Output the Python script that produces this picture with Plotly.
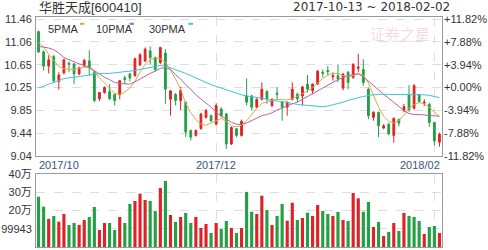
import plotly.graph_objects as go
import pandas as pd

# ---------------- data ----------------
dates = [d.strftime("%Y-%m-%d") for d in pd.bdate_range("2017-10-13", "2018-02-02")
         if d.strftime("%Y-%m-%d") != "2018-01-01"]

open_ = [11.24, 10.88, 10.63, 10.80, 10.36, 10.51, 10.68, 10.67, 10.49, 10.63,
         10.72, 10.53, 10.05, 10.16, 10.18, 10.13, 10.12, 10.42, 10.49, 10.46,
         10.65, 10.72, 10.90, 10.78, 10.69, 10.86, 10.04, 10.13, 10.02, 9.99,
         9.49, 9.40, 9.52, 9.72, 9.75, 9.60, 9.87, 9.78, 9.25, 9.52,
         9.40, 10.10, 10.10, 9.90, 10.04, 10.18, 9.93, 10.15, 9.99, 9.90,
         10.04, 10.13, 10.10, 10.31, 10.19, 10.31, 10.52, 10.55, 10.44, 10.46,
         10.24, 10.52, 10.43, 10.59, 10.57, 10.22, 9.72, 9.81, 9.53, 9.60,
         9.40, 9.68, 9.84, 10.12, 9.88, 10.12, 9.97, 9.95, 9.63, 9.28]
high = [11.26, 10.91, 10.82, 10.83, 10.52, 10.76, 10.71, 10.68, 10.62, 10.76,
        10.91, 10.55, 10.17, 10.27, 10.31, 10.14, 10.38, 10.46, 10.51, 10.78,
        10.86, 10.96, 10.98, 10.80, 10.97, 10.93, 10.20, 10.15, 10.26, 10.00,
        9.50, 9.50, 9.80, 9.87, 9.77, 9.97, 9.90, 9.80, 9.56, 9.53,
        9.68, 10.41, 10.12, 10.06, 10.34, 10.20, 10.06, 10.25, 10.00, 10.00,
        10.34, 10.16, 10.28, 10.47, 10.32, 10.56, 10.57, 10.63, 10.52, 10.66,
        10.50, 10.54, 10.68, 10.85, 10.75, 10.25, 9.83, 9.82, 9.60, 9.62,
        9.72, 9.70, 9.96, 10.29, 10.31, 10.14, 10.04, 9.98, 9.64, 9.45]
low = [10.86, 10.55, 10.50, 10.33, 10.21, 10.48, 10.52, 10.31, 10.47, 10.62,
       10.46, 9.99, 10.01, 10.14, 10.03, 9.93, 10.04, 10.31, 10.36, 10.44,
       10.63, 10.70, 10.66, 10.53, 10.66, 9.96, 9.75, 9.93, 9.85, 9.37,
       9.31, 9.38, 9.50, 9.70, 9.64, 9.58, 9.72, 9.16, 9.23, 9.37,
       9.38, 9.93, 9.84, 9.88, 10.02, 9.96, 9.90, 10.04, 9.66, 9.75,
       10.02, 9.99, 9.93, 10.16, 10.13, 10.30, 10.43, 10.46, 10.37, 10.34,
       10.20, 10.22, 10.40, 10.52, 10.28, 9.69, 9.66, 9.37, 9.51, 9.40,
       9.27, 9.56, 9.81, 9.82, 9.86, 9.98, 9.92, 9.55, 9.22, 9.20]
close = [10.88, 10.63, 10.74, 10.37, 10.47, 10.74, 10.66, 10.49, 10.60, 10.73,
         10.60, 10.02, 10.16, 10.25, 10.05, 10.02, 10.37, 10.39, 10.42, 10.76,
         10.83, 10.93, 10.78, 10.57, 10.96, 10.22, 10.19, 10.02, 10.20, 9.46,
         9.37, 9.49, 9.78, 9.84, 9.66, 9.93, 9.75, 9.25, 9.54, 9.40,
         9.65, 9.99, 9.90, 10.04, 10.22, 10.05, 10.04, 10.13, 9.90, 9.99,
         10.22, 10.05, 10.26, 10.22, 10.31, 10.54, 10.50, 10.53, 10.46, 10.40,
         10.49, 10.34, 10.66, 10.61, 10.34, 9.75, 9.81, 9.57, 9.57, 9.43,
         9.70, 9.62, 9.91, 9.85, 10.28, 10.00, 9.99, 9.63, 9.30, 9.42]

ma5 = [11.05, 10.97, 10.84, 10.74, 10.62, 10.58, 10.57, 10.57, 10.59, 10.61,
       10.60, 10.53, 10.42, 10.33, 10.25, 10.15, 10.12, 10.17, 10.24, 10.36,
       10.52, 10.66, 10.74, 10.78, 10.76, 10.70, 10.55, 10.40, 10.22, 9.97,
       9.80, 9.68, 9.60, 9.58, 9.62, 9.66, 9.70, 9.65, 9.57, 9.55,
       9.58, 9.66, 9.78, 9.88, 9.97, 10.00, 10.02, 10.04, 10.04, 10.03,
       10.05, 10.09, 10.14, 10.19, 10.25, 10.33, 10.41, 10.47, 10.50, 10.50,
       10.46, 10.44, 10.46, 10.50, 10.47, 10.33, 10.12, 9.90, 9.74, 9.65,
       9.62, 9.66, 9.76, 9.88, 9.95, 9.98, 9.96, 9.90, 9.81, 9.74]
ma10 = [10.98, 10.97, 10.95, 10.92, 10.86, 10.78, 10.74, 10.70, 10.67, 10.64,
        10.61, 10.55, 10.49, 10.43, 10.39, 10.34, 10.32, 10.31, 10.31, 10.35,
        10.40, 10.46, 10.50, 10.54, 10.59, 10.60, 10.57, 10.48, 10.40, 10.30,
        10.22, 10.12, 10.05, 9.97, 9.90, 9.81, 9.74, 9.69, 9.63, 9.60,
        9.59, 9.62, 9.66, 9.71, 9.75, 9.77, 9.80, 9.85, 9.89, 9.93,
        9.96, 9.99, 10.04, 10.09, 10.13, 10.18, 10.23, 10.28, 10.33, 10.39,
        10.42, 10.46, 10.48, 10.49, 10.44, 10.36, 10.29, 10.21, 10.13, 10.06,
        9.99, 9.91, 9.84, 9.79, 9.77, 9.77, 9.76, 9.76, 9.75, 9.74]
ma30 = [10.24, 10.28, 10.31, 10.34, 10.37, 10.41, 10.42, 10.43, 10.44, 10.45,
        10.47, 10.49, 10.50, 10.50, 10.50, 10.51, 10.52, 10.52, 10.53, 10.55,
        10.57, 10.59, 10.61, 10.63, 10.64, 10.63, 10.60, 10.57, 10.53, 10.50,
        10.46, 10.42, 10.38, 10.33, 10.30, 10.27, 10.24, 10.21, 10.18, 10.14,
        10.12, 10.10, 10.09, 10.07, 10.06, 10.04, 10.02, 10.01, 10.00, 9.98,
        9.97, 9.95, 9.94, 9.93, 9.92, 9.91, 9.91, 9.92, 9.94, 9.97,
        9.99, 10.02, 10.05, 10.07, 10.09, 10.11, 10.12, 10.13, 10.13, 10.13,
        10.13, 10.13, 10.13, 10.13, 10.13, 10.12, 10.12, 10.11, 10.09, 10.07]

volume = [275600, 220800, 153400, 169900, 138700, 180800, 120500, 131500, 120500, 147900,
          164400, 219200, 93200, 131500, 131500, 93200, 164400, 131500, 235600, 252100,
          292300, 257500, 252100, 197300, 323300, 361600, 175300, 137000, 164400, 186300,
          131500, 164400, 104100, 126000, 76700, 131500, 98600, 142500, 104100, 76700,
          104100, 302000, 193400, 180800, 281100, 202700, 120500, 169900, 235600, 144100,
          242700, 147900, 158900, 188000, 169900, 230100, 197300, 180800, 169900, 191800,
          147900, 142500, 295900, 266700, 193400, 246600, 109600, 137000, 60300, 82200,
          131500, 87700, 186300, 169900, 164400, 142500, 71200, 109600, 115100, 76700]
volume_dir = "ggrgrrggrr" "ggrrggrggr" "rrggrgrgrg" "grrrgrggrg" "rggrrgrggr" \
             "rgrgrrggrg" "rgrrggrgrg" "rgrgggrggr"

price_ticks = [9.04, 9.44, 9.85, 10.25, 10.65, 11.06, 11.46]
pct_labels = ["-11.82%", "-7.88%", "-3.94%", "+0.00%", "+3.94%", "+7.88%", "+11.82%"]
vol_ticks = [99943, 200000, 300000, 400000]
vol_labels = ["99943", "20万", "30万", "40万"]
month_labels = ["2017/10", "2017/12", "2018/02"]
month_grid = ["2017-12-01", "2018-02-01"]
ma_names = ["5PMA", "10PMA", "30PMA"]
title_text = "华胜天成[600410]"
range_text = "2017-10-13 ~ 2018-02-02"

# ---------------- style ----------------
RED = "#dd2327"
GREEN = "#23a046"
MA_COLORS = ["#d6ae48", "#b9649f", "#3dc3dc"]
BORDER = "#9a9a9a"
GRID = "#dedede"
TXT = "#333333"
BLUE_TXT = "#3a5580"
FONT = "Liberation Sans, Arial, Noto Sans CJK SC"

W, H = 488, 250
L, R, T, B = 36, 46, 17, 3
PW, PH = W - L - R, H - T - B


def px(x):
    return (x - L) / PW


def py(y):
    return (H - B - y) / PH


fig = go.Figure()
fig.add_trace(go.Candlestick(
    x=dates, open=open_, high=high, low=low, close=close,
    increasing=dict(line=dict(color=RED, width=1), fillcolor=RED),
    decreasing=dict(line=dict(color=GREEN, width=1), fillcolor=GREEN),
    whiskerwidth=0, xaxis="x", yaxis="y", showlegend=False, hoverinfo="skip"))
for ma, col in zip([ma5, ma10, ma30], MA_COLORS):
    fig.add_trace(go.Scatter(x=dates, y=ma, mode="lines", line=dict(color=col, width=1),
                             xaxis="x", yaxis="y", showlegend=False, hoverinfo="skip"))
# carrier for the right-hand percent axis
fig.add_trace(go.Scatter(x=dates, y=close, mode="lines", line=dict(width=0), opacity=0,
                         xaxis="x", yaxis="y2", showlegend=False, hoverinfo="skip"))
fig.add_trace(go.Bar(x=dates, y=volume,
                     marker=dict(color=[RED if c == "r" else GREEN for c in volume_dir], line=dict(width=0)),
                     width=0.62, xaxis="x2", yaxis="y3", showlegend=False, hoverinfo="skip"))

xcommon = dict(type="category", range=[-0.5, len(dates) - 0.5], showticklabels=False, ticks="",
               tickvals=month_grid, showgrid=True, gridcolor=GRID, griddash="dash", gridwidth=1,
               showline=True, mirror=True, linecolor=BORDER, linewidth=1, zeroline=False,
               fixedrange=True)
yrange = [9.035, 11.50]
tickfont = dict(family=FONT, size=11, color=TXT)

fig.update_layout(
    width=W, height=H, margin=dict(l=L, r=R, t=T, b=B, pad=0, autoexpand=False),
    paper_bgcolor="white", plot_bgcolor="white", showlegend=False, boxgap=0.5,
    xaxis=dict(domain=[0, 1], anchor="y", rangeslider=dict(visible=False), **xcommon),
    xaxis2=dict(domain=[0, 1], anchor="y3", **xcommon),
    yaxis=dict(domain=[py(156), 1], range=yrange, tickvals=price_ticks,
               ticktext=[f"{v:.2f}" for v in price_ticks], ticks="", tickfont=tickfont,
               showgrid=True, gridcolor=GRID, griddash="dash", showline=True, mirror=True,
               linecolor=BORDER, linewidth=1, zeroline=False, ticklabelstandoff=1),
    yaxis2=dict(overlaying="y", side="right", anchor="x", range=yrange, tickvals=price_ticks,
                ticktext=pct_labels, ticks="", tickfont=tickfont, showgrid=False,
                showline=False, zeroline=False, ticklabelstandoff=1),
    yaxis3=dict(domain=[0, py(174)], anchor="x2", range=[0, 400000], tickvals=vol_ticks,
                ticktext=vol_labels, ticks="", tickfont=tickfont, showgrid=True, gridcolor=GRID,
                griddash="dash", showline=True, mirror=True, linecolor=BORDER, linewidth=1,
                zeroline=False, ticklabelstandoff=1),
)

ann = []
ann.append(dict(text=title_text, xref="paper", yref="paper", x=px(37), y=py(7.5),
                xanchor="left", yanchor="middle", showarrow=False,
                font=dict(family="Liberation Sans, Noto Sans CJK SC", size=13, color=TXT)))
ann.append(dict(text=range_text, xref="paper", yref="paper", x=px(452), y=py(7.5),
                xanchor="right", yanchor="middle", showarrow=False,
                font=dict(family="DejaVu Sans", size=12, color=TXT)))
ann.append(dict(text="证券之星", xref="paper", yref="paper", x=px(400), y=py(33),
                xanchor="center", yanchor="middle", showarrow=False,
                font=dict(family="Noto Sans CJK SC", size=15, color="rgba(226,120,130,0.28)")))
# legend
for name, x0 in zip(ma_names, [46, 94, 147]):
    ann.append(dict(text=name, xref="paper", yref="paper", x=px(x0), y=py(28.5),
                    xanchor="left", yanchor="middle", showarrow=False,
                    font=dict(family=FONT, size=11, color=TXT)))
shapes = []
for col, x0 in zip(MA_COLORS, [80, 129.5, 188.5]):
    shapes.append(dict(type="rect", xref="paper", yref="paper", x0=px(x0), x1=px(x0 + 4.5),
                       y0=py(24.8), y1=py(22.8), fillcolor=col, line=dict(width=0)))
# month labels
ann.append(dict(text=month_labels[0], xref="paper", yref="paper", x=px(36.5), y=py(165),
                xanchor="left", yanchor="middle", showarrow=False,
                font=dict(family=FONT, size=11, color=BLUE_TXT)))
ann.append(dict(text=month_labels[1], xref="x", yref="paper", x=month_grid[0], y=py(165),
                xanchor="center", yanchor="middle", showarrow=False,
                font=dict(family=FONT, size=11, color=BLUE_TXT)))
ann.append(dict(text=month_labels[2], xref="paper", yref="paper", x=px(441.5), y=py(165),
                xanchor="right", yanchor="middle", showarrow=False,
                font=dict(family=FONT, size=11, color=BLUE_TXT)))
fig.update_layout(annotations=ann, shapes=shapes)

fig.write_html("out.html", config={"displayModeBar": False},
               post_script="document.body.style.margin='0';document.body.style.padding='0';"
                           "document.body.style.overflow='hidden';")
